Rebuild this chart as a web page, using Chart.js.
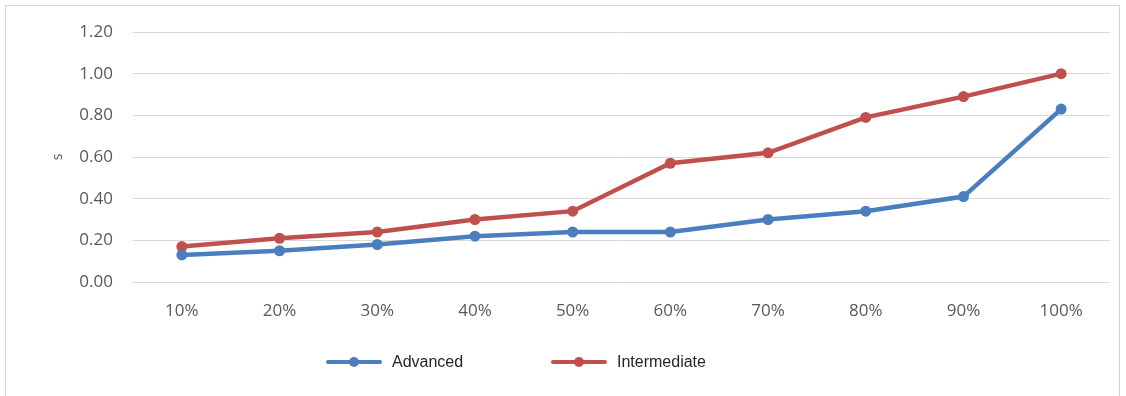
<!DOCTYPE html>
<html>
<head>
<meta charset="utf-8">
<script src="https://cdn.jsdelivr.net/npm/chart.js@4"></script>
<style>
  html, body { margin: 0; padding: 0; background: #fff; }
  #wrap { position: relative; width: 1126px; height: 396px; }
  #frame { position: absolute; left: 5px; top: 5px; width: 1115px; height: 400px; border: 1px solid #d4d4d4; box-sizing: border-box; pointer-events: none; }
  canvas { display: block; }
</style>
</head>
<body>
<div id="wrap">
  <canvas id="c" width="1126" height="396"></canvas>
  <div id="frame"></div>
</div>
<script>
const categories = ['10%', '20%', '30%', '40%', '50%', '60%', '70%', '80%', '90%', '100%'];
const advanced = [0.13, 0.15, 0.18, 0.22, 0.24, 0.24, 0.30, 0.34, 0.41, 0.83];
const intermediate = [0.17, 0.21, 0.24, 0.30, 0.34, 0.57, 0.62, 0.79, 0.89, 1.00];
const seriesNames = ['Advanced', 'Intermediate'];
const yTitle = 's';

const BLUE = '#4a7ebf';
const RED = '#c0504d';
const TICK_FONT = { size: 17, family: '"Open Sans", "Liberation Sans", Arial, sans-serif' };

const customLegend = {
  id: 'customLegend',
  afterDraw(chart) {
    const ctx = chart.ctx;
    const y = 362;
    const starts = [328, 553];
    ctx.save();
    chart.data.datasets.forEach((ds, i) => {
      const x0 = starts[i];
      ctx.strokeStyle = ds.borderColor;
      ctx.lineWidth = 4;
      ctx.lineCap = 'round';
      ctx.beginPath();
      ctx.moveTo(x0, y);
      ctx.lineTo(x0 + 52, y);
      ctx.stroke();
      ctx.fillStyle = ds.borderColor;
      ctx.beginPath();
      ctx.arc(x0 + 26, y, 5, 0, Math.PI * 2);
      ctx.fill();
      ctx.fillStyle = '#262626';
      ctx.font = '16px "Liberation Sans", Arial, sans-serif';
      ctx.textBaseline = 'middle';
      ctx.textAlign = 'left';
      ctx.fillText(ds.label, x0 + 64, y + 1);
    });
    ctx.restore();
  }
};

new Chart(document.getElementById('c'), {
  type: 'line',
  data: {
    labels: categories,
    datasets: [
      { label: seriesNames[0], data: advanced, borderColor: BLUE, backgroundColor: BLUE, borderWidth: 4.5, pointRadius: 5.5, pointBackgroundColor: BLUE, pointBorderWidth: 0, tension: 0 },
      { label: seriesNames[1], data: intermediate, borderColor: RED, backgroundColor: RED, borderWidth: 4.5, pointRadius: 5.5, pointBackgroundColor: RED, pointBorderWidth: 0, tension: 0 }
    ]
  },
  options: {
    responsive: false,
    animation: false,
    events: [],
    layout: { padding: { left: 50, right: 16, top: 32, bottom: 0 } },
    plugins: { legend: { display: false }, tooltip: { enabled: false } },
    scales: {
      x: {
        offset: true,
        grid: { display: false, drawTicks: false },
        border: { display: false },
        ticks: { color: '#595959', font: TICK_FONT, padding: 19, maxRotation: 0 },
        afterFit(scale) { scale.height = 114; }
      },
      y: {
        min: 0, max: 1.2,
        ticks: { stepSize: 0.2, color: '#595959', font: TICK_FONT, padding: 20, callback: v => v.toFixed(2) },
        grid: { color: '#d9d9d9', lineWidth: 1, drawTicks: false },
        border: { display: false },
        title: { display: true, text: yTitle, color: '#595959', font: { size: 14, family: '"Open Sans", "Liberation Sans", Arial, sans-serif' }, padding: 0 },
        afterFit(scale) { scale.width = 83; }
      }
    }
  },
  plugins: [customLegend]
});
</script>
</body>
</html>
